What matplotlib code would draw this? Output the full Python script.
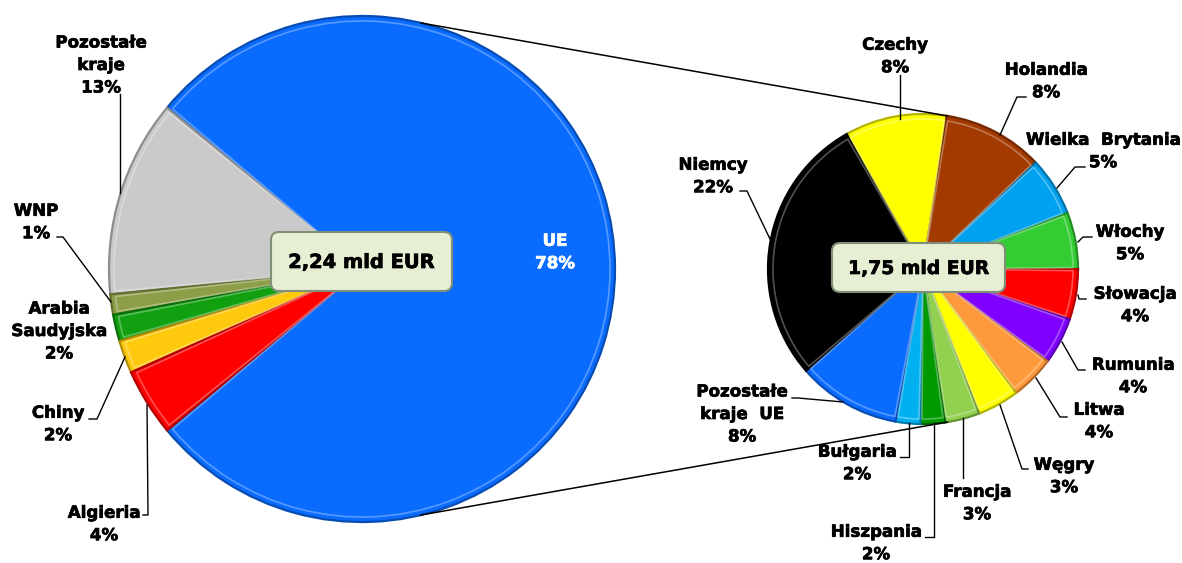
import numpy as np
import matplotlib.pyplot as plt
import matplotlib.patheffects as pe
from matplotlib.patches import FancyBboxPatch, Wedge
from matplotlib.colors import to_rgb

# main pie: share of total (%)
main_labels = ["UE", "Pozostałe\nkraje", "WNP", "Arabia\nSaudyjska", "Chiny", "Algieria"]
main_values = [78.0, 12.6, 1.3, 1.7, 2.1, 4.3]
main_colors = ["#0a6cff", "#cacaca", "#8d9e48", "#10a010", "#ffc90e", "#ff0000"]

# EU breakdown (% of total)
eu_labels = ["Czechy", "Holandia", "Wielka  Brytania", "Włochy", "Słowacja", "Rumunia",
             "Litwa", "Węgry", "Francja", "Hiszpania", "Bułgaria", "Pozostałe\nkraje  UE", "Niemcy"]
eu_values = [8.3, 8.2, 4.8, 4.6, 4.1, 3.8, 3.6, 3.4, 2.8, 2.0, 2.0, 8.4, 22.0]
eu_colors = ["#ffff00", "#a33a00", "#00a2f0", "#33cc33", "#ff0000", "#7f00ff",
             "#ff9a3c", "#ffff00", "#92d050", "#009900", "#00b0f0", "#0a6cff", "#000000"]

total_text = "2,24 mld EUR"
eu_text = "1,75 mld EUR"

W, H = 1182, 563
fig = plt.figure(figsize=(W / 100, H / 100), dpi=100)
ax = fig.add_axes([0, 0, 1, 1])


def Y(y):
    return H - y


def darker(c, f=0.7):
    return tuple(v * f for v in to_rgb(c))


def lighter(c, f=0.45):
    return tuple(v + (1 - v) * f for v in to_rgb(c))


def bevel_pie(values, colors, center, radius, startangle, counterclock):
    wedges, _ = ax.pie(values, colors=colors, center=center, radius=radius,
                       startangle=startangle, counterclock=counterclock,
                       wedgeprops=dict(linewidth=1.6), frame=True)
    for w, c in zip(wedges, colors):
        w.set_edgecolor(darker(c))
        # inner highlight to fake the bevel
        inner = Wedge(w.center, w.r - 5, w.theta1 + 0.6, w.theta2 - 0.6,
                      facecolor='none', edgecolor=lighter(c), linewidth=1.2,
                      alpha=0.7, zorder=3)
        ax.add_patch(inner)
    return wedges


c1, r1 = (362, Y(269)), 253
c2, r2 = (923, Y(269)), 155

ue_share = main_values[0] / sum(main_values)
bevel_pie(main_values, main_colors, c1, r1, -ue_share * 180, True)
bevel_pie(eu_values, eu_colors, c2, r2, 119.5, False)
ax.set_xlim(0, W)
ax.set_ylim(0, H)
ax.set_aspect('equal')
ax.axis('off')

# connector lines between the pies
for s in (1, -1):
    a1 = np.deg2rad(76.5)
    a2 = np.deg2rad(81)
    p1 = (c1[0] + r1 * np.cos(a1), c1[1] + s * r1 * np.sin(a1))
    p2 = (c2[0] + r2 * np.cos(a2), c2[1] + s * r2 * np.sin(a2))
    ax.plot([p1[0], p2[0]], [p1[1], p2[1]], color='black', lw=1.1, zorder=1)

thick = [pe.withStroke(linewidth=0.5, foreground='black')]
font = dict(fontsize=12, fontweight='bold', family='DejaVu Sans', ha='center',
            va='center', linespacing=1.32, zorder=5)

# label positions (px, y down) and leader lines
main_pos = [(555, 252), (101, 65), (36, 222), (59, 331), (58, 424), (104, 524)]
main_lead = [None, [(120, 94), (120, 193)], [(57, 237), (63, 237), (111, 302)], None,
             [(89, 419), (97, 419), (125, 357)], [(143, 515), (148, 515), (147, 405)]]

eu_pos = [(895, 56), (1046, 81), (1103, 151), (1130, 243), (1135, 305), (1133, 376),
          (1099, 421), (1064, 476), (977, 503), (876, 543), (857, 463), (742, 414), (713, 176)]
eu_lead = [[(900, 75), (900, 119)],
           [(1026, 97), (1017, 97), (1000, 135)],
           [(1085, 167), (1075, 167), (1057, 188)],
           [(1092, 237), (1083, 237), (1078, 242)],
           [(1086, 299), (1079, 299), (1078, 295)],
           [(1085, 370), (1078, 370), (1062, 342)],
           [(1067, 417), (1060, 417), (1036, 378)],
           [(1028, 469), (1022, 469), (1000, 405)],
           [(963, 478), (963, 418)],
           [(925, 537), (934, 537), (934, 423)],
           [(900, 457), (909, 457), (909, 423)],
           [(792, 398), (798, 398), (843, 402)],
           [(740, 191), (747, 191), (770, 239)]]

for i, (lab, v) in enumerate(zip(main_labels, main_values)):
    x, y = main_pos[i]
    col = 'white' if i == 0 else 'black'
    ax.text(x, Y(y), f"{lab}\n{v:.0f}%", color=col,
            path_effects=[pe.withStroke(linewidth=0.5, foreground=col)], **font)
    if main_lead[i]:
        pts = np.array(main_lead[i], dtype=float)
        ax.plot(pts[:, 0], H - pts[:, 1], color='black', lw=1.0, zorder=4)

for i, (lab, v) in enumerate(zip(eu_labels, eu_values)):
    x, y = eu_pos[i]
    ax.text(x, Y(y), f"{lab}\n{v:.0f}%", color='black', path_effects=thick, **font)
    pts = np.array(eu_lead[i], dtype=float)
    ax.plot(pts[:, 0], H - pts[:, 1], color='black', lw=1.0, zorder=4)

# value boxes in the middle of the pies
for (x0, y0, x1, y1), txt, fs in [((271, 232, 452, 291), total_text, 14),
                                  ((832, 243, 1005, 292), eu_text, 13.5)]:
    box = FancyBboxPatch((x0, Y(y1)), x1 - x0, y1 - y0,
                         boxstyle="round,pad=0,rounding_size=8",
                         facecolor='#e6efd4', edgecolor='#7f8f78', linewidth=1.5, zorder=6)
    ax.add_patch(box)
    ax.text((x0 + x1) / 2, Y((y0 + y1) / 2 + 1), txt, fontsize=fs, fontweight='bold',
            family='DejaVu Sans', ha='center', va='center', zorder=7, path_effects=thick)

fig.savefig("out.png", dpi=100)
